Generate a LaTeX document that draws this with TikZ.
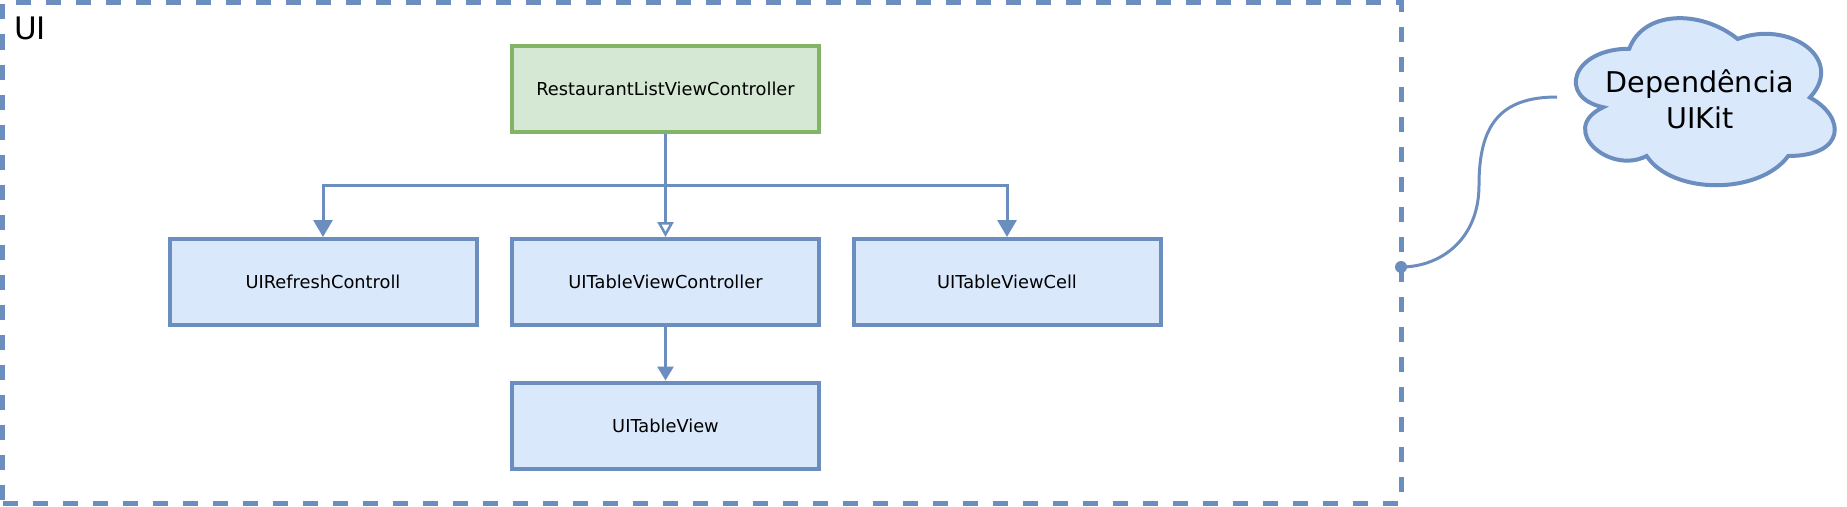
\documentclass[tikz,border=0pt]{standalone}
\usepackage{fontspec}
\setmainfont{DejaVu Sans}
\usepackage{xcolor}
\usepackage{tikz}
\usetikzlibrary{arrows.meta}

\definecolor{blueline}{HTML}{6C8EBF}
\definecolor{bluefill}{HTML}{DAE8FC}
\definecolor{greenline}{HTML}{82B366}
\definecolor{greenfill}{HTML}{D5E8D4}

\begin{document}
\begin{tikzpicture}[x=1pt, y=-1pt]
      \tikzstyle{box} = [rectangle, draw=blueline, fill=bluefill, line width=4pt, minimum width=307pt, minimum height=86pt, inner sep=0pt, font=\fontsize{17.8}{21}\selectfont]
      \tikzstyle{mainbox} = [box, draw=greenline, fill=greenfill]
      \tikzstyle{frame} = [rectangle, draw=blueline, line width=5pt, dash pattern=on 15pt off 15pt, minimum width=1398.5pt, minimum height=501pt]
      \tikzstyle{edge} = [-{Triangle[width=19pt, length=17pt]}, draw=blueline, line width=3pt]
      \tikzstyle{openedge} = [-{Triangle[width=16pt, length=15pt, fill=white, line width=2.5pt]}, draw=blueline, line width=3pt]
      \useasboundingbox (0,0) rectangle (1847,506);
      \node[frame] (ui) at (701.75,253) {};
      \node[anchor=base west, inner sep=0pt, font=\fontsize{31}{36}\selectfont] (uilabel) at (14,39) {UI};
      \node[mainbox] (rlvc) at (665.5,89) {RestaurantListViewController};
      \node[box] (refresh) at (323,282) {UIRefreshControll};
      \node[box] (tvc) at (665.5,282) {UITableViewController};
      \node[box] (cell) at (1007,282) {UITableViewCell};
      \node[box] (tv) at (665.5,425.5) {UITableView};
      \coordinate (branch) at (665.5,185.5);
      \draw[edge] (rlvc.south) -- (branch) -| (refresh.north);
      \draw[edge] (rlvc.south) -- (branch) -| (cell.north);
      \draw[openedge] (rlvc.south) -- (tvc.north); % open head
      \draw[edge, -{Triangle[width=16pt, length=14pt]}] (tvc.south) -- (tv.north);
      % cloud
      \begin{scope}[shift={(1557,0)}, x=289pt, y=-195pt]
        \draw[draw=blueline, fill=bluefill, line width=4pt] (0.25,0.25) .. controls (0.05,0.25) and (0,0.5) .. (0.16,0.55)
          .. controls (0,0.66) and (0.18,0.9) .. (0.31,0.8)
          .. controls (0.4,1) and (0.7,1) .. (0.8,0.8)
          .. controls (1,0.8) and (1,0.6) .. (0.875,0.5)
          .. controls (1,0.3) and (0.8,0.1) .. (0.625,0.2)
          .. controls (0.5,0.05) and (0.3,0.05) .. (0.25,0.25) -- cycle;
      \end{scope}
      \node[align=center, inner sep=0pt, font=\fontsize{28.6}{36}\selectfont] (uikit) at (1700,99) {Dependência\\UIKit};
      \coordinate (cloudwest) at (1557,97);
      \coordinate (dot) at (1401,267);
      \fill[blueline] (dot) circle (6pt);
      \draw[draw=blueline, line width=3pt] (dot) .. controls (1440,267) and (1479,240) .. (1479,185)
        .. controls (1479,125) and (1500,97) .. (cloudwest);
    \end{tikzpicture}
\end{document}
